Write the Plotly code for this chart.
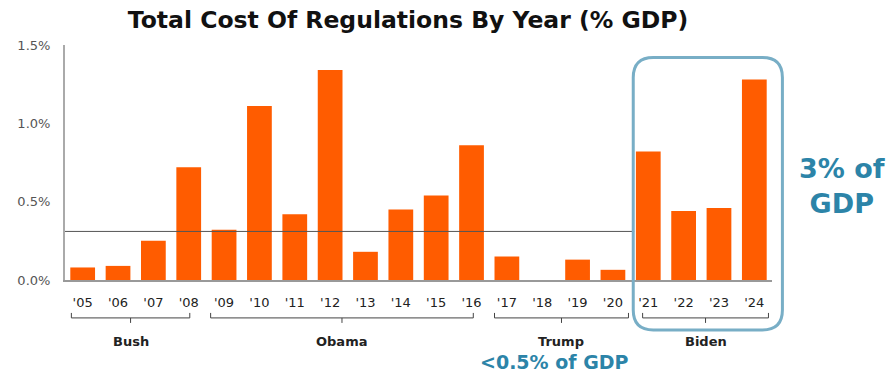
import plotly.graph_objects as go

# Regulatory cost by fiscal year, as a share of GDP (%)
years = ["'05", "'06", "'07", "'08", "'09", "'10", "'11", "'12", "'13", "'14",
         "'15", "'16", "'17", "'18", "'19", "'20", "'21", "'22", "'23", "'24"]
cost_pct_gdp = [0.08, 0.09, 0.25, 0.72, 0.32, 1.11, 0.42, 1.34, 0.18, 0.45,
                0.54, 0.86, 0.15, 0.0, 0.13, 0.065, 0.82, 0.44, 0.46, 1.28]
reference_level = 0.31

# Administrations: (label, first index, last index)
administrations = [("Bush", 0, 3), ("Obama", 4, 11), ("Trump", 12, 15), ("Biden", 16, 19)]

y_ticks = [0.0, 0.5, 1.0, 1.5]
y_tick_text = ["0.0%", "0.5%", "1.0%", "1.5%"]

W, H = 890, 374
M_L, M_R, M_T, M_B = 65.4, 118.4, 44.5, 94
PW, PH = W - M_L - M_R, H - M_T - M_B

FONT = "DejaVu Sans"
BAR = "#FF5C00"
TEAL = "#2C84A8"
BOX = "#78AEC6"


def px_x(px):
    return (px - M_L) / PW


def px_y(py):
    return (H - M_B - py) / PH


fig = go.Figure(go.Bar(
    x=list(range(len(years))), y=cost_pct_gdp,
    marker=dict(color=BAR, line=dict(width=0)),
    width=0.7, hoverinfo="skip",
))

shapes = []

# Horizontal reference line, stopping at the highlighted box
shapes.append(dict(type="line", xref="paper", yref="y",
                   x0=0, x1=px_x(634), y0=reference_level, y1=reference_level,
                   line=dict(color="#555555", width=1)))

# Brackets under each administration
bracket_y = px_y(318)
end_y = px_y(313)
mid_y = px_y(323)
bracket_pad = {"Bush": (-0.32, 0.03), "Obama": (-0.38, 0.05),
               "Trump": (-0.35, 0.44), "Biden": (-0.16, 0.4)}
for name, i0, i1 in administrations:
    a, b = bracket_pad[name]
    xa, xb = i0 + a, i1 + b
    xm = (xa + xb) / 2
    path = (f"M {xa},{end_y} L {xa},{bracket_y} L {xb},{bracket_y} L {xb},{end_y} "
            f"M {xm},{bracket_y} L {xm},{mid_y}")
    shapes.append(dict(type="path", xref="x", yref="paper", path=path,
                       line=dict(color="#444444", width=1)))

# Rounded highlight box around the latest administration
L, R, T, B, r = 633, 782, 57, 330, 20
xl, xr = px_x(L), px_x(R)
yt, yb = px_y(T), px_y(B)
rx, ry = r / PW, r / PH
box_path = (f"M {xl + rx},{yt} L {xr - rx},{yt} Q {xr},{yt} {xr},{yt - ry} "
            f"L {xr},{yb + ry} Q {xr},{yb} {xr - rx},{yb} "
            f"L {xl + rx},{yb} Q {xl},{yb} {xl},{yb + ry} "
            f"L {xl},{yt - ry} Q {xl},{yt} {xl + rx},{yt} Z")
shapes.append(dict(type="path", xref="paper", yref="paper", path=box_path,
                   line=dict(color=BOX, width=3)))

annotations = []
for name, i0, i1 in administrations:
    a, b = bracket_pad[name]
    annotations.append(dict(x=(i0 + a + i1 + b) / 2, xref="x", y=px_y(342), yref="paper",
                            text=f"<b>{name}</b>", showarrow=False,
                            xanchor="center", yanchor="middle",
                            font=dict(family=FONT, size=13, color="#222222")))

annotations.append(dict(x=px_x(842), xref="paper", y=px_y(186), yref="paper",
                        text="<b>3% of<br>GDP</b>", showarrow=False, align="center",
                        xanchor="center", yanchor="middle",
                        font=dict(family=FONT, size=27, color=TEAL)))
annotations.append(dict(x=px_x(554), xref="paper", y=px_y(362), yref="paper",
                        text="<b><0.5% of GDP</b>", showarrow=False,
                        xanchor="center", yanchor="middle",
                        font=dict(family=FONT, size=19, color=TEAL)))

fig.update_layout(
    width=W, height=H,
    margin=dict(l=M_L, r=M_R, t=M_T, b=M_B, pad=0),
    paper_bgcolor="white", plot_bgcolor="white",
    showlegend=False, bargap=0.3,
    title=dict(text="<b>Total Cost Of Regulations By Year (% GDP)</b>",
               x=408 / W, xanchor="center",
               y=1 - 20 / H, yanchor="middle",
               font=dict(family=FONT, size=23.5, color="#111111")),
    xaxis=dict(range=[-0.5, len(years) - 0.5], tickmode="array",
               tickvals=list(range(len(years))), ticktext=years,
               showgrid=False, zeroline=False, showline=True,
               linecolor="#999999", linewidth=2, ticks="",
               ticklabelstandoff=9,
               tickfont=dict(family=FONT, size=13, color="#222222")),
    yaxis=dict(range=[0, 1.5], tickmode="array", tickvals=y_ticks, ticktext=y_tick_text,
               showgrid=False, zeroline=False, showline=True,
               linecolor="#AAAAAA", linewidth=2, ticks="",
               ticklabelstandoff=10,
               tickfont=dict(family=FONT, size=13, color="#555555")),
    shapes=shapes, annotations=annotations,
)

fig.write_html("out.html")
